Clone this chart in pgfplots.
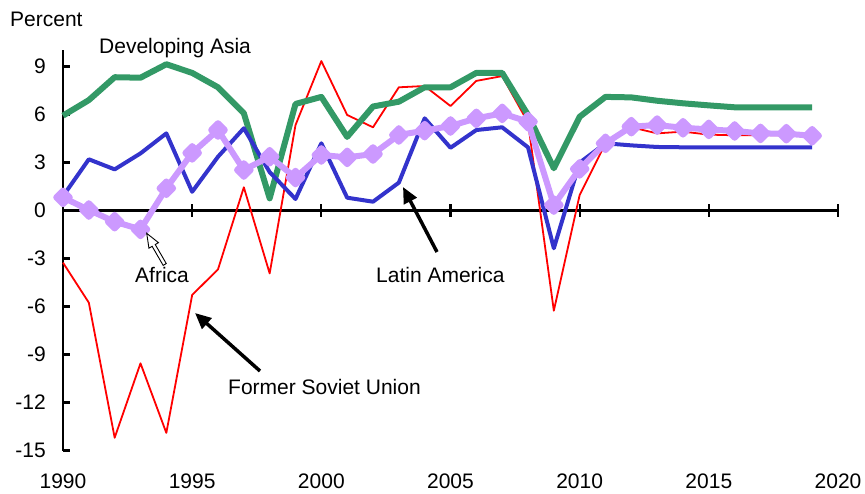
\documentclass[border=0pt]{standalone}
\usepackage{fontspec}
\setmainfont{Liberation Sans}
\usepackage{pgfplots}
\pgfplotsset{compat=1.18}
\usetikzlibrary{arrows.meta}
\definecolor{asiagreen}{RGB}{51,153,102}
\definecolor{lablue}{RGB}{51,51,204}
\definecolor{afpurple}{RGB}{204,153,255}
\newcommand{\fs}{\fontsize{21}{25}\selectfont}
\begin{document}
\begin{tikzpicture}
\useasboundingbox (0,0) rectangle (865pt,-494pt);
\begin{axis}[
 at={(63pt,-450.5pt)}, anchor=south west,
 scale only axis, width=775pt, height=400pt,
 xmin=1990, xmax=2020, ymin=-15, ymax=10,
 axis lines*=left,
 x axis line style={draw=none},
 y axis line style={line width=2.4pt, black},
 xtick={1990,1995,...,2020},
 xticklabels={1990,1995,2000,2005,2010,2015,2020},
 ytick={-15,-12,-9,-6,-3,0,3,6,9},
 yticklabels={-15,-12,-9,-6,-3,0,3,6,9},
 tick align=inside,
 major tick length=7.5pt,
 xtick style={draw=none},
 ytick style={line width=2.2pt, black},
 tick label style={font=\fs, inner sep=0pt},
 xticklabel style={yshift=-23pt},
 yticklabel style={xshift=-17pt},
 clip=false,
]
\draw[line width=2.4pt] (axis cs:1990,0) -- (axis cs:2020,0);
\draw[line width=2.2pt] (axis cs:1995,-0.4) -- (axis cs:1995,0.4);
\draw[line width=2.2pt] (axis cs:2000,-0.4) -- (axis cs:2000,0.4);
\draw[line width=2.2pt] (axis cs:2005,-0.4) -- (axis cs:2005,0.4);
\draw[line width=2.2pt] (axis cs:2010,-0.4) -- (axis cs:2010,0.4);
\draw[line width=2.2pt] (axis cs:2015,-0.4) -- (axis cs:2015,0.4);
\draw[line width=2.2pt] (axis cs:2020,-0.4) -- (axis cs:2020,0.4);
% Former Soviet Union
\addplot[color=red, line width=1.8pt, line join=round, mark=none] coordinates {
(1990,-3.26) (1991,-5.76) (1992,-14.2) (1993,-9.55) (1994,-13.9) (1995,-5.28)
(1996,-3.68) (1997,1.45) (1998,-3.93) (1999,5.34) (2000,9.34) (2001,5.97)
(2002,5.2) (2003,7.7) (2004,7.78) (2005,6.53) (2006,8.1) (2007,8.4)
(2008,5.5) (2009,-6.26) (2010,0.97) (2011,4.2) (2012,5.2) (2013,4.82)
(2014,4.93) (2015,4.74) (2016,4.7) (2017,4.7) (2018,4.7) (2019,4.7)};
% Developing Asia
\addplot[color=asiagreen, line width=6pt, line join=round, mark=none] coordinates {
(1990,5.93) (1991,6.9) (1992,8.33) (1993,8.3) (1994,9.14) (1995,8.6)
(1996,7.7) (1997,6.08) (1998,0.76) (1999,6.66) (2000,7.1) (2001,4.6)
(2002,6.5) (2003,6.8) (2004,7.7) (2005,7.7) (2006,8.6) (2007,8.6)
(2008,5.97) (2009,2.64) (2010,5.86) (2011,7.1) (2012,7.07) (2013,6.86)
(2014,6.7) (2015,6.57) (2016,6.45) (2017,6.45) (2018,6.45) (2019,6.45)};
% Latin America
\addplot[color=lablue, line width=4pt, line join=round, mark=none] coordinates {
(1990,0.9) (1991,3.2) (1992,2.57) (1993,3.57) (1994,4.82) (1995,1.17)
(1996,3.36) (1997,5.14) (1998,2.4) (1999,0.72) (2000,4.2) (2001,0.8)
(2002,0.55) (2003,1.74) (2004,5.76) (2005,3.92) (2006,5.03) (2007,5.2)
(2008,3.95) (2009,-2.36) (2010,2.99) (2011,4.2) (2012,4.07) (2013,3.97)
(2014,3.95) (2015,3.95) (2016,3.95) (2017,3.95) (2018,3.95) (2019,3.95)};
% Africa
\addplot[color=afpurple, line width=6pt, line join=round, mark=square*,
  mark size=4.8pt, mark options={rotate=45, draw=none, fill=afpurple}] coordinates {
(1990,0.82) (1991,0.03) (1992,-0.7) (1993,-1.18) (1994,1.39) (1995,3.6)
(1996,5.03) (1997,2.53) (1998,3.36) (1999,2.06) (2000,3.47) (2001,3.32)
(2002,3.53) (2003,4.72) (2004,4.99) (2005,5.28) (2006,5.76) (2007,6.07)
(2008,5.55) (2009,0.34) (2010,2.6) (2011,4.2) (2012,5.24) (2013,5.34)
(2014,5.17) (2015,5.07) (2016,4.97) (2017,4.82) (2018,4.8) (2019,4.67)};
\end{axis}
% annotations (coordinates in pixels of the reference, y downward)
\node[font=\fs, anchor=base west, inner sep=0pt] at (10pt,-27pt) {Percent};
\node[font=\fs, anchor=base west, inner sep=0pt] at (99pt,-54pt) {Developing Asia};
\node[font=\fs, anchor=base west, inner sep=0pt] at (135pt,-282.5pt) {Africa};
\node[font=\fs, anchor=base west, inner sep=0pt] at (376pt,-282.5pt) {Latin America};
\node[font=\fs, anchor=base west, inner sep=0pt] at (228pt,-394pt) {Former Soviet Union};
\begin{scope}[shift={(146.7pt,-233.3pt)}, rotate=-60]
 \draw[line width=0.9pt, fill=white, line join=miter]
   (0,0) -- (14pt,5.5pt) -- (14pt,1.8pt) -- (36pt,1.8pt) -- (36pt,-1.8pt)
   -- (14pt,-1.8pt) -- (14pt,-5.5pt) -- cycle;
\end{scope}
\draw[line width=3.5pt, -{Triangle[length=16pt,width=14pt]}] (437pt,-252pt) -- (403pt,-187pt);
\draw[line width=3.5pt, -{Triangle[length=16pt,width=14pt]}] (260pt,-371pt) -- (195pt,-313pt);
\end{tikzpicture}
\end{document}
